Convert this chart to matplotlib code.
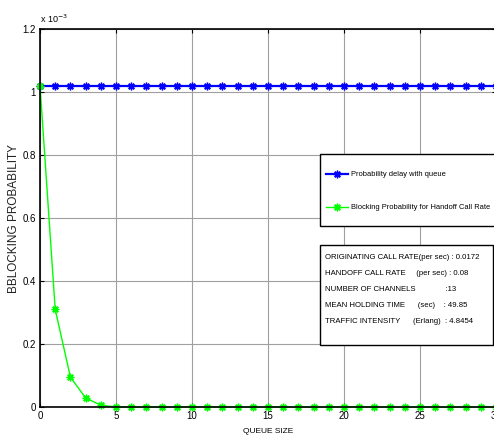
import numpy as np
import matplotlib
matplotlib.use("Agg")
import matplotlib.pyplot as plt
from matplotlib.patches import Rectangle

# values in units of 1e-3
queue_size = list(range(0, 31))
delay_prob = [1.02] * 31
handoff_block = [1.02, 0.31, 0.095, 0.029, 0.006] + [0.0] * 26

info_lines = [
    "ORIGINATING CALL RATE(per sec) : 0.0172",
    "HANDOFF CALL RATE     (per sec) : 0.08",
    "NUMBER OF CHANNELS              :13",
    "MEAN HOLDING TIME      (sec)    : 49.85",
    "TRAFFIC INTENSITY      (Erlang)  : 4.8454",
]

fam = ["Liberation Sans", "DejaVu Sans"]

fig = plt.figure(figsize=(4.94, 4.41), dpi=100)
ax = fig.add_axes([0.081, 0.077, 0.923, 0.857])

star = (8, 2, 0)
ax.plot(queue_size, delay_prob, color="#0000ff", lw=1.6, marker=star, ms=5.5,
        mew=1.0, label="Probability delay with queue", clip_on=False)
ax.plot(queue_size, handoff_block, color="#00ff00", lw=1.0, marker=star, ms=5.5,
        mew=1.0, label="Blocking Probability for Handoff Call Rate", clip_on=False)

ax.set_xlim(0, 30)
ax.set_ylim(0, 1.2)
ax.set_xticks(range(0, 31, 5))
ax.set_yticks([0, 0.2, 0.4, 0.6, 0.8, 1.0, 1.2])
ax.set_yticklabels(["0", "0.2", "0.4", "0.6", "0.8", "1", "1.2"])
ax.grid(True, color="#a0a0a0", lw=0.8)
ax.set_axisbelow(True)
ax.tick_params(direction="in", length=3, labelsize=7, top=True, right=True, pad=3)
for lab in ax.get_xticklabels() + ax.get_yticklabels():
    lab.set_family(fam)
for sp in ax.spines.values():
    sp.set_linewidth(1.2)

ax.text(0.0, 1.012, r"x 10$^{-3}$", transform=ax.transAxes, fontsize=6.5,
        family=fam, va="bottom", ha="left")

ax.set_xlabel("QUEUE SIZE", fontsize=6, family=fam, labelpad=5)
ax.set_ylabel("BBLOCKING PROBABILITY", fontsize=8.5, family=fam, color="#222222")
ax.yaxis.set_label_coords(-0.043, 0.5)

# legend frame drawn separately so the padding can match
ax.add_patch(Rectangle((0.614, 0.479), 0.40, 0.190, transform=ax.transAxes,
                       fc="white", ec="black", lw=1.0, zorder=5, clip_on=False))
leg = ax.legend(loc="upper left", bbox_to_anchor=(0.627, 0.624),
                prop={"family": fam, "size": 5.4}, frameon=False,
                labelspacing=3.4, handlelength=3.0, handletextpad=0.3,
                borderpad=0, borderaxespad=0)
leg.set_zorder(6)

# parameter box
ax.add_patch(Rectangle((0.614, 0.164), 0.379, 0.265, transform=ax.transAxes,
                       fc="white", ec="black", lw=1.0, zorder=5))
ax.text(0.625, 0.405, "\n".join(info_lines), transform=ax.transAxes,
        fontsize=5.6, family=fam, va="top", ha="left", linespacing=2.82,
        zorder=6)

fig.savefig("out.png", dpi=100)
